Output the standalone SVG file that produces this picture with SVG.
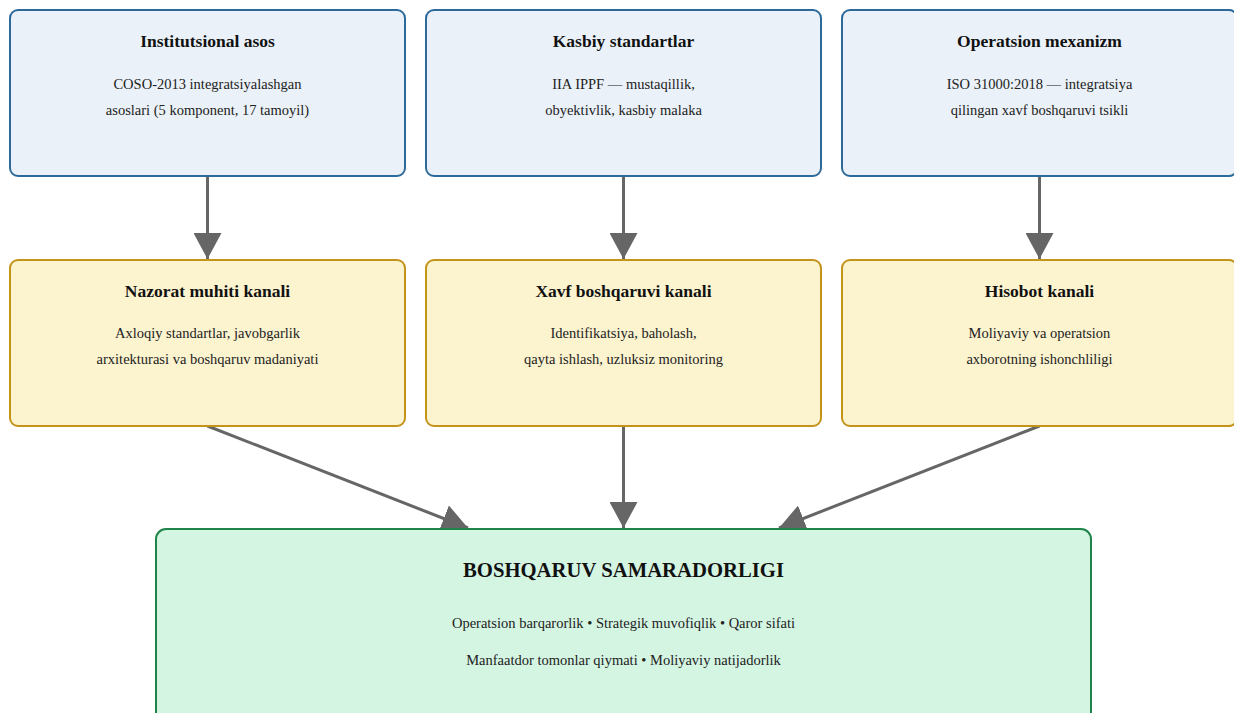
<svg xmlns="http://www.w3.org/2000/svg" width="1234" height="713" viewBox="0 0 1234 713">
<style>
.top{fill:#eaf1f8;stroke:#2e6a99;stroke-width:2}
.mid{fill:#fcf3cf;stroke:#c4941a;stroke-width:2}
.bot{fill:#d5f5e3;stroke:#1e8449;stroke-width:2}
.t{font-family:"Liberation Serif","Times New Roman",serif;font-weight:bold;font-size:17.5px;fill:#111;text-anchor:middle}
.b{font-family:"Liberation Serif","Times New Roman",serif;font-size:14.5px;fill:#222;text-anchor:middle}
.bt{font-family:"Liberation Serif","Times New Roman",serif;font-weight:bold;font-size:20.7px;fill:#111;text-anchor:middle}
.c{stroke:#666;stroke-width:3;fill:none;marker-end:url(#ah)}
</style>
<defs>
<marker id="ah" markerUnits="userSpaceOnUse" markerWidth="28" markerHeight="28" refX="26" refY="14" orient="auto" viewBox="0 0 28 28">
<path d="M0,0 L26,14 L0,28 z" fill="#666"/>
</marker>
</defs>
<g id="connectors">
<line class="c" x1="207.5" y1="177" x2="207.5" y2="259"/>
<line class="c" x1="623.5" y1="177" x2="623.5" y2="259"/>
<line class="c" x1="1039.5" y1="177" x2="1039.5" y2="259"/>
<line class="c" x1="207.5" y1="426" x2="468" y2="528"/>
<line class="c" x1="623.5" y1="426" x2="623.5" y2="528"/>
<line class="c" x1="1039.5" y1="426" x2="779" y2="528"/>
</g>
<g id="n1">
<rect class="top" x="10" y="10" width="395" height="166" rx="8"/>
<text class="t" x="207.5" y="47">Institutsional asos</text>
<text class="b" x="207.5" y="89">COSO-2013 integratsiyalashgan</text>
<text class="b" x="207.5" y="115">asoslari (5 komponent, 17 tamoyil)</text>
</g>
<g id="n2">
<rect class="top" x="426" y="10" width="395" height="166" rx="8"/>
<text class="t" x="623.5" y="47">Kasbiy standartlar</text>
<text class="b" x="623.5" y="89">IIA IPPF — mustaqillik,</text>
<text class="b" x="623.5" y="115">obyektivlik, kasbiy malaka</text>
</g>
<g id="n3">
<rect class="top" x="842" y="10" width="395" height="166" rx="8"/>
<text class="t" x="1039.5" y="47">Operatsion mexanizm</text>
<text class="b" x="1039.5" y="89">ISO 31000:2018 — integratsiya</text>
<text class="b" x="1039.5" y="115">qilingan xavf boshqaruvi tsikli</text>
</g>
<g id="n4">
<rect class="mid" x="10" y="260" width="395" height="166" rx="8"/>
<text class="t" x="207.5" y="297">Nazorat muhiti kanali</text>
<text class="b" x="207.5" y="338">Axloqiy standartlar, javobgarlik</text>
<text class="b" x="207.5" y="364">arxitekturasi va boshqaruv madaniyati</text>
</g>
<g id="n5">
<rect class="mid" x="426" y="260" width="395" height="166" rx="8"/>
<text class="t" x="623.5" y="297">Xavf boshqaruvi kanali</text>
<text class="b" x="623.5" y="338">Identifikatsiya, baholash,</text>
<text class="b" x="623.5" y="364">qayta ishlash, uzluksiz monitoring</text>
</g>
<g id="n6">
<rect class="mid" x="842" y="260" width="395" height="166" rx="8"/>
<text class="t" x="1039.5" y="297">Hisobot kanali</text>
<text class="b" x="1039.5" y="338">Moliyaviy va operatsion</text>
<text class="b" x="1039.5" y="364">axborotning ishonchliligi</text>
</g>
<g id="n7">
<rect class="bot" x="156" y="529" width="935" height="200" rx="10"/>
<text class="bt" x="623.5" y="577">BOSHQARUV SAMARADORLIGI</text>
<text class="b" x="623.5" y="628">Operatsion barqarorlik • Strategik muvofiqlik • Qaror sifati</text>
<text class="b" x="623.5" y="665">Manfaatdor tomonlar qiymati • Moliyaviy natijadorlik</text>
</g>
</svg>
